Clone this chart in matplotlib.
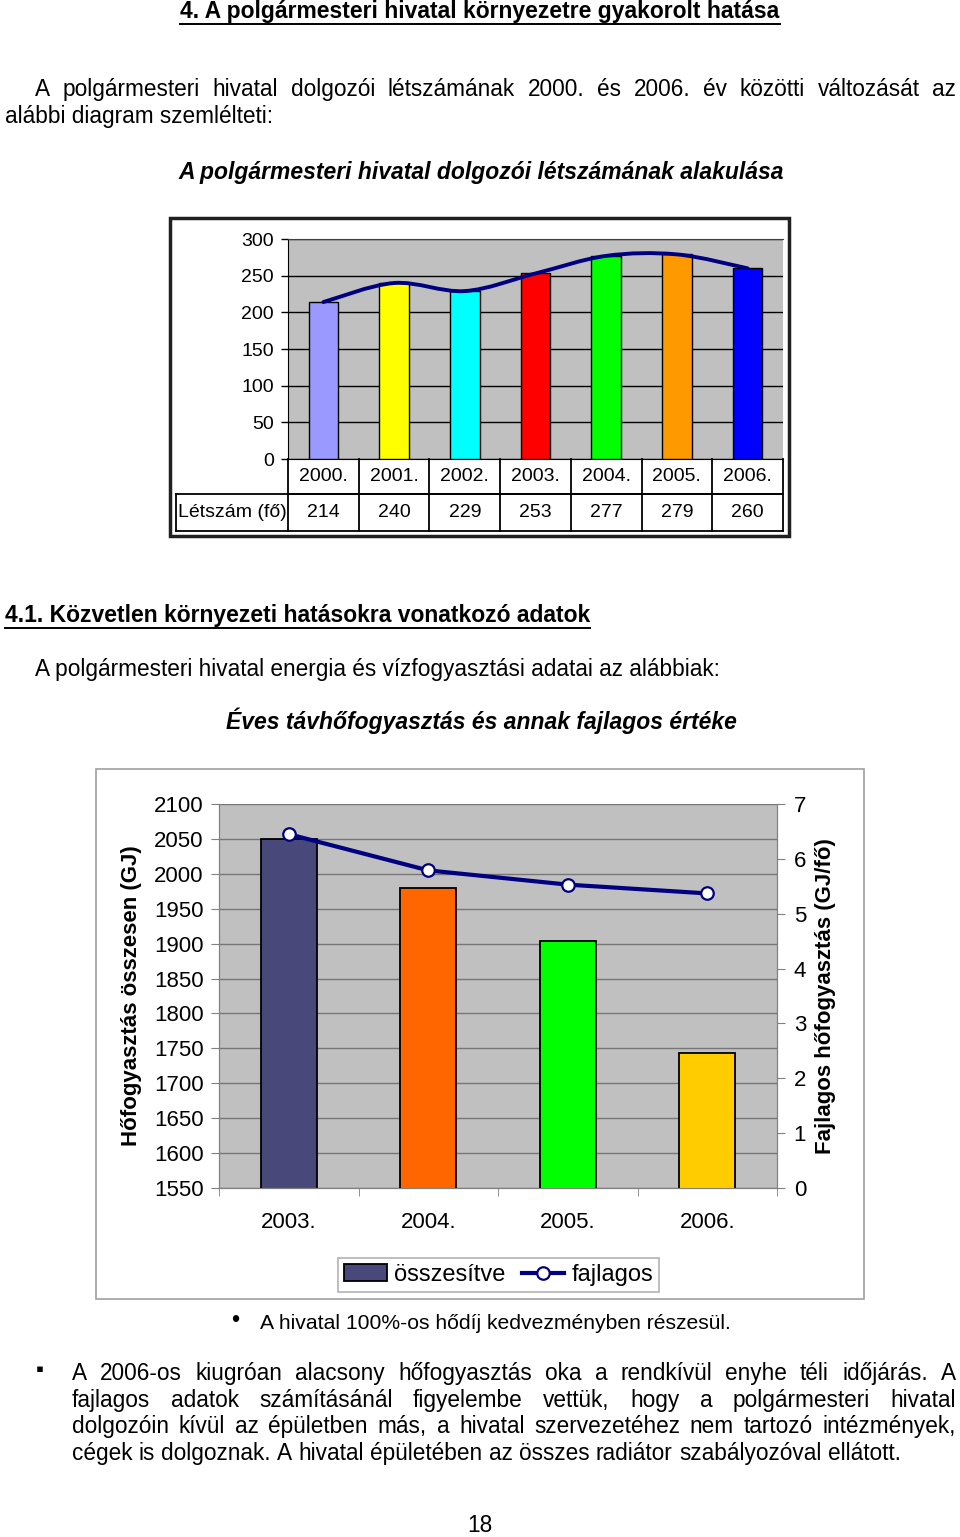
import matplotlib
matplotlib.use('Agg')
import matplotlib.pyplot as plt
import matplotlib.transforms as mtransforms
from matplotlib.path import Path
from matplotlib.patches import PathPatch, Rectangle
from matplotlib.lines import Line2D
import numpy as np

plt.rcParams['font.family'] = ['Liberation Sans', 'DejaVu Sans']

# ---------------- data ----------------
years_top = ['2000.', '2001.', '2002.', '2003.', '2004.', '2005.', '2006.']
letszam = [214, 240, 229, 253, 277, 279, 260]
top_colors = ['#9999FF', '#FFFF00', '#00FFFF', '#FF0000', '#00FF00', '#FF9900', '#0000FF']
top_yticks = [0, 50, 100, 150, 200, 250, 300]

years_bottom = ['2003.', '2004.', '2005.', '2006.']
osszesitve = [2050, 1980, 1904, 1744]
fajlagos = [6.45, 5.79, 5.53, 5.37]
bottom_colors = ['#48487A', '#FF6600', '#00FF00', '#FFCC00']
left_ticks = [1550, 1600, 1650, 1700, 1750, 1800, 1850, 1900, 1950, 2000, 2050, 2100]
right_ticks = [0, 1, 2, 3, 4, 5, 6, 7]

W, H = 960, 1537
fig = plt.figure(figsize=(9.6, 15.37), dpi=100)
renderer = fig.canvas.get_renderer()

BODY = 16.3
HEAD = 16.5


def fx(x):
    return x / W


def fy(y):
    return 1 - y / H


def axrect(x0, y0, x1, y1):
    return [fx(x0), fy(y1), (x1 - x0) / W, (y1 - y0) / H]


def txt(x, y, s, size=BODY, ha='left', **kw):
    return fig.text(fx(x), fy(y), s, fontsize=size, ha=ha, va='center', **kw)


def btxt(x, y, s, size=BODY, ha='left', **kw):
    # baseline-aligned text, y = visual centre of the line
    base = y + 0.36 * size * 100 / 72
    return fig.text(fx(x), fy(base), s, fontsize=size, ha=ha, va='baseline', **kw)


def underline(t, lw=1.4):
    bb = t.get_window_extent(renderer)
    yline = bb.y0 - 1.0
    fig.add_artist(Line2D([bb.x0 / W, bb.x1 / W], [yline / H, yline / H],
                          color='black', lw=lw))


def justify(line, y, x0, x1, size=BODY, last=False):
    words = line.split(' ')
    objs = [btxt(0, y, w, size=size) for w in words]
    widths = [o.get_window_extent(renderer).width for o in objs]
    if last or len(words) == 1:
        gap = 0.278 * size * 100 / 72
    else:
        gap = (x1 - x0 - sum(widths)) / (len(words) - 1)
    x = x0
    for o, w in zip(objs, widths):
        o.set_x(fx(x))
        x += w + gap


# ---------------- page text ----------------
t = btxt(480, 10, '4. A polgármesteri hivatal környezetre gyakorolt hatása', size=HEAD,
         ha='center', fontweight='bold')
underline(t)
justify('A polgármesteri hivatal dolgozói létszámának 2000. és 2006. év közötti változását az',
        88, 35, 956)
btxt(5, 115, 'alábbi diagram szemlélteti:')
btxt(481, 171, 'A polgármesteri hivatal dolgozói létszámának alakulása', size=HEAD,
     ha='center', fontweight='bold', fontstyle='italic')

t = btxt(5, 614, '4.1. Közvetlen környezeti hatásokra vonatkozó adatok', size=HEAD,
         fontweight='bold')
underline(t)
btxt(35, 668, 'A polgármesteri hivatal energia és vízfogyasztási adatai az alábbiak:')
btxt(481, 721, 'Éves távhőfogyasztás és annak fajlagos értéke', size=HEAD,
     ha='center', fontweight='bold', fontstyle='italic')

txt(235, 1321, '•', size=17, ha='center')
btxt(260, 1321, 'A hivatal 100%-os hődíj kedvezményben részesül.', size=15.2)
txt(40, 1370, '▪', size=16, ha='center')
para = [
    'A 2006-os kiugróan alacsony hőfogyasztás oka a rendkívül enyhe téli időjárás. A',
    'fajlagos adatok számításánál figyelembe vettük, hogy a polgármesteri hivatal',
    'dolgozóin kívül az épületben más, a hivatal szervezetéhez nem tartozó intézmények,',
    'cégek is dolgoznak. A hivatal épületében az összes radiátor szabályozóval ellátott.',
]
for i, (line, yy) in enumerate(zip(para, [1372, 1399, 1425, 1452])):
    justify(line, yy, 72, 956, last=(i == len(para) - 1))
txt(480, 1526, '18', size=BODY, ha='center')

# ---------------- top chart ----------------
fig.add_artist(Rectangle((fx(170), fy(536)), (789 - 170) / W, (536 - 218) / H,
                         transform=fig.transFigure, fill=False, edgecolor='#202020', lw=2.5))

ax1 = fig.add_axes(axrect(288, 239, 783, 459))
ax1.set_facecolor('#C0C0C0')
xs = np.arange(len(years_top))
ax1.bar(xs, letszam, width=0.42, color=top_colors, edgecolor='black', lw=1, zorder=3)
ax1.set_xlim(-0.5, len(years_top) - 0.5)
ax1.set_ylim(0, 300)
ax1.set_yticks(top_yticks)
ax1.yaxis.grid(True, color='black', lw=1)
ax1.set_axisbelow(True)
ax1.set_xticks([])
ax1.tick_params(axis='y', length=5, width=1, pad=5, labelsize=14)
ax1.spines['right'].set_visible(False)
ax1.spines['top'].set_color('#404040')


def smooth_path(xv, yv):
    pts = np.column_stack([xv, yv]).astype(float)
    n = len(pts)
    verts = [pts[0]]
    codes = [Path.MOVETO]
    for i in range(n - 1):
        p0 = pts[i - 1] if i > 0 else pts[i]
        p1, p2 = pts[i], pts[i + 1]
        p3 = pts[i + 2] if i + 2 < n else pts[i + 1]
        verts += [p1 + (p2 - p0) / 6, p2 - (p3 - p1) / 6, p2]
        codes += [Path.CURVE4] * 3
    return Path(verts, codes)


ax1.add_patch(PathPatch(smooth_path(xs, letszam), fill=False, edgecolor='#000080',
                        lw=2.8, zorder=4, capstyle='round'))

# data table under the chart
trans = mtransforms.blended_transform_factory(ax1.transData, ax1.transAxes)
r1 = -(494 - 459) / 220
r2 = -(531 - 459) / 220
xL = -0.5 - (288 - 176) / 495 * len(years_top)
tl = dict(color='black', lw=1.3, transform=trans, clip_on=False)
ax1.add_line(Line2D([-0.5, 6.5], [r1, r1], **tl))
ax1.add_line(Line2D([xL, 6.5], [r1, r1], **tl))
ax1.add_line(Line2D([xL, 6.5], [r2, r2], **tl))
ax1.add_line(Line2D([xL, xL], [r1, r2], **tl))
for k in range(len(years_top) + 1):
    ax1.add_line(Line2D([k - 0.5, k - 0.5], [0, r2], **tl))
for i, (yr, v) in enumerate(zip(years_top, letszam)):
    ax1.text(i, r1 / 2, yr, transform=trans, ha='center', va='center', fontsize=14)
    ax1.text(i, (r1 + r2) / 2, str(v), transform=trans, ha='center', va='center',
             fontsize=14)
ax1.text((xL - 0.5) / 2, (r1 + r2) / 2, 'Létszám (fő)', transform=trans,
         ha='center', va='center', fontsize=14)

# ---------------- bottom chart ----------------
fig.add_artist(Rectangle((fx(96), fy(1299)), (864 - 96) / W, (1299 - 769) / H,
                         transform=fig.transFigure, fill=False, edgecolor='#A0A0A0', lw=1.2))

ax2 = fig.add_axes(axrect(219, 804, 777, 1188))
ax2.set_facecolor('#C0C0C0')
xb = np.arange(len(years_bottom))
ax2.bar(xb, osszesitve, width=0.4, color=bottom_colors, edgecolor='black', lw=1.3, zorder=3)
ax2.set_xlim(-0.5, len(years_bottom) - 0.5)
ax2.set_ylim(1550, 2100)
ax2.set_yticks(left_ticks)
ax2.yaxis.grid(True, color='#777777', lw=1)
ax2.set_axisbelow(True)
ax2.set_xticks(xb)
ax2.set_xticklabels(years_bottom)
ax2.set_xticks(np.arange(len(years_bottom) + 1) - 0.5, minor=True)
ax2.tick_params(axis='x', which='major', length=0, pad=17, labelsize=16)
ax2.tick_params(axis='x', which='minor', length=6, color='#808080')
ax2.tick_params(axis='y', length=6, color='#808080', pad=5, labelsize=16)
for s in ax2.spines.values():
    s.set_color('#808080')
ax2.spines['top'].set_visible(False)

ax3 = ax2.twinx()
ax3.set_ylim(0, 7)
ax3.set_yticks(right_ticks)
ax3.plot(xb, fajlagos, color='#000080', lw=3, marker='o', ms=9, mfc='white',
         mec='#000080', mew=1.6, zorder=5, clip_on=False)
ax3.tick_params(axis='y', length=6, color='#808080', pad=6, labelsize=16)
for s in ax3.spines.values():
    s.set_color('#808080')
ax3.spines['top'].set_visible(False)

txt(131, 996, 'Hőfogyasztás összesen (GJ)', size=16, ha='center', fontweight='bold',
    rotation=90)
txt(826, 996, 'Fajlagos hőfogyasztás (GJ/fő)', size=16, ha='center', fontweight='bold',
    rotation=90)

handles = [Rectangle((0, 0), 1, 1, facecolor=bottom_colors[0], edgecolor='black', lw=1.3),
           Line2D([], [], color='#000080', lw=3, marker='o', ms=9, mfc='white',
                  mec='#000080', mew=1.6)]
leg = fig.legend(handles, ['összesítve', 'fajlagos'], loc='center',
                 bbox_to_anchor=(fx(498.5), fy(1275)), ncol=2, fontsize=17,
                 frameon=True, fancybox=False, edgecolor='#A0A0A0', handlelength=1.8,
                 columnspacing=0.7, handletextpad=0.3, borderpad=0.25)
leg.get_frame().set_linewidth(1.2)

fig.savefig('out.png', dpi=100)
